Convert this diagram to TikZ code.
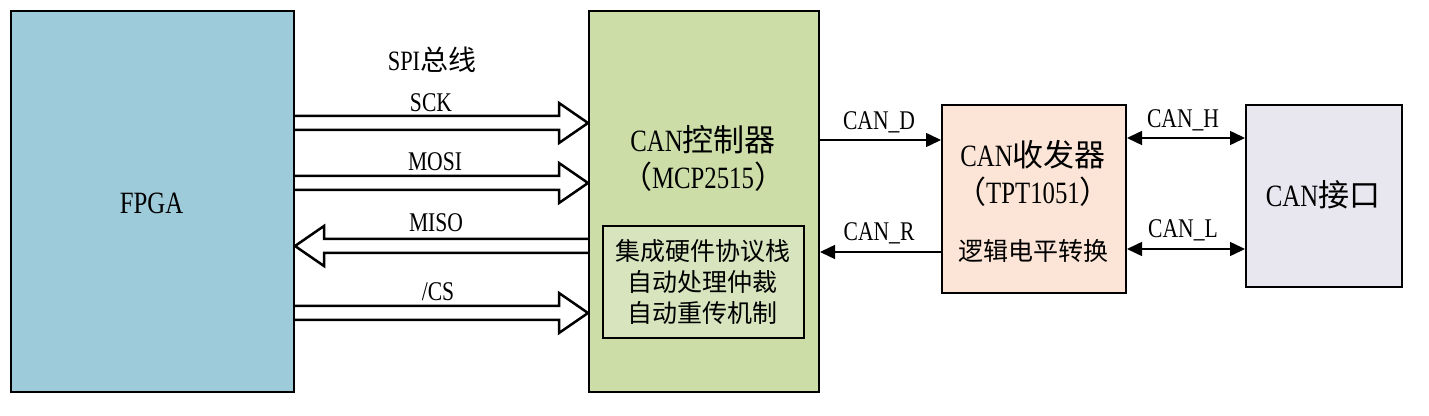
\documentclass[tikz,border=0pt]{standalone}
\usepackage{fontspec}
\setmainfont{Liberation Serif}[FakeStretch=0.8]
\newfontfamily\cjk{Noto Sans CJK SC}
\usetikzlibrary{calc,arrows.meta}
\definecolor{fpgac}{RGB}{157,203,218}
\definecolor{ctrlc}{RGB}{204,221,168}
\definecolor{innerc}{RGB}{215,228,190}
\definecolor{trxc}{RGB}{252,229,214}
\definecolor{ifc}{RGB}{232,230,238}
\tikzset{
  blk/.style={draw=black,line width=1pt,inner sep=0pt,anchor=north west},
  big/.style={font=\fontsize{15.5}{18.5}\selectfont,align=center,inner sep=0pt},
  mid/.style={font=\fontsize{12.5}{15.5}\selectfont,align=center,inner sep=0pt},
  sig/.style={font=\fontsize{13.5}{15}\selectfont,inner sep=0pt},
  harrow/.style={draw=black,line width=1.25pt,line join=miter},
  wire/.style={draw=black,line width=0.75pt},
  tip/.style={-{Triangle[length=7.5pt,width=7pt]}},
  tips/.style={{Triangle[length=7.5pt,width=7pt]}-{Triangle[length=7.5pt,width=7pt]}}
}
\newcommand\harrowR[2]{\draw[harrow] ($(#1)+(0,-7)$) -- ($(#2)+(-29,-7)$) -- ($(#2)+(-29,-20)$) -- (#2) -- ($(#2)+(-29,20)$) -- ($(#2)+(-29,7)$) -- ($(#1)+(0,7)$);}
\newcommand\harrowL[2]{\draw[harrow] ($(#1)+(0,-7)$) -- ($(#2)+(29,-7)$) -- ($(#2)+(29,-20)$) -- (#2) -- ($(#2)+(29,20)$) -- ($(#2)+(29,7)$) -- ($(#1)+(0,7)$);}
\begin{document}
\begin{tikzpicture}[x=0.5pt,y=-0.5pt]
\useasboundingbox (0,0) rectangle (1429,416);
% blocks
\node[blk,fill=fpgac,minimum width=141.5pt,minimum height=190.5pt] (fpga) at (10,10) {};
\node[big] (fpgat) at (151.5,203) {FPGA};
\node[blk,fill=ctrlc,minimum width=115pt,minimum height=190.5pt] (ctrl) at (588,10) {};
\node[big] (ctrlt) at (703,158) {CAN{\cjk 控制器}\\{\cjk （}MCP2515{\cjk ）}};
\node[blk,fill=innerc,minimum width=100.5pt,minimum height=56pt] (inner) at (602,225) {};
\node[mid] (innert) at (702.5,282) {\cjk 集成硬件协议栈\\\cjk 自动处理仲裁\\\cjk 自动重传机制};
\node[blk,fill=trxc,minimum width=92pt,minimum height=94pt] (trx) at (941,104) {};
\node[big] (trxt) at (1033,173) {CAN{\cjk 收发器}\\{\cjk （}TPT1051{\cjk ）}};
\node[mid] (trxt2) at (1033,251) {\cjk 逻辑电平转换};
\node[blk,fill=ifc,minimum width=78pt,minimum height=91pt] (ifc) at (1245,104) {};
\node[big] (ifct) at (1323,195) {CAN{\cjk 接口}};
% SPI bus
\node[sig,font=\fontsize{14}{16}\selectfont] (spi) at (432,60) {SPI{\cjk 总线}};
\coordinate (sckA) at (fpga.east |- 0,123);
\coordinate (sckB) at (ctrl.west |- 0,123);
\coordinate (mosiA) at (fpga.east |- 0,183);
\coordinate (mosiB) at (ctrl.west |- 0,183);
\coordinate (misoA) at (ctrl.west |- 0,246);
\coordinate (misoB) at (fpga.east |- 0,246);
\coordinate (csA) at (fpga.east |- 0,313);
\coordinate (csB) at (ctrl.west |- 0,313);
\harrowR{sckA}{sckB}
\harrowR{mosiA}{mosiB}
\harrowL{misoA}{misoB}
\harrowR{csA}{csB}
\node[sig] (sck) at (431,103) {SCK};
\node[sig] (mosi) at (435,162) {MOSI};
\node[sig] (miso) at (436,223) {MISO};
\node[sig] (cs) at (438,292) {/CS};
% CAN signals
\draw[wire,tip] (ctrl.east |- 0,140) -- (trx.west |- 0,140);
\draw[wire,tip] (trx.west |- 0,252) -- (ctrl.east |- 0,252);
\draw[wire,tips] (trx.east |- 0,138) -- (ifc.west |- 0,138);
\draw[wire,tips] (trx.east |- 0,249) -- (ifc.west |- 0,249);
\node[sig] (cand) at (879,122) {CAN\_D};
\node[sig] (canr) at (879,233) {CAN\_R};
\node[sig] (canh) at (1183,120) {CAN\_H};
\node[sig] (canl) at (1183,230) {CAN\_L};
\end{tikzpicture}
\end{document}
